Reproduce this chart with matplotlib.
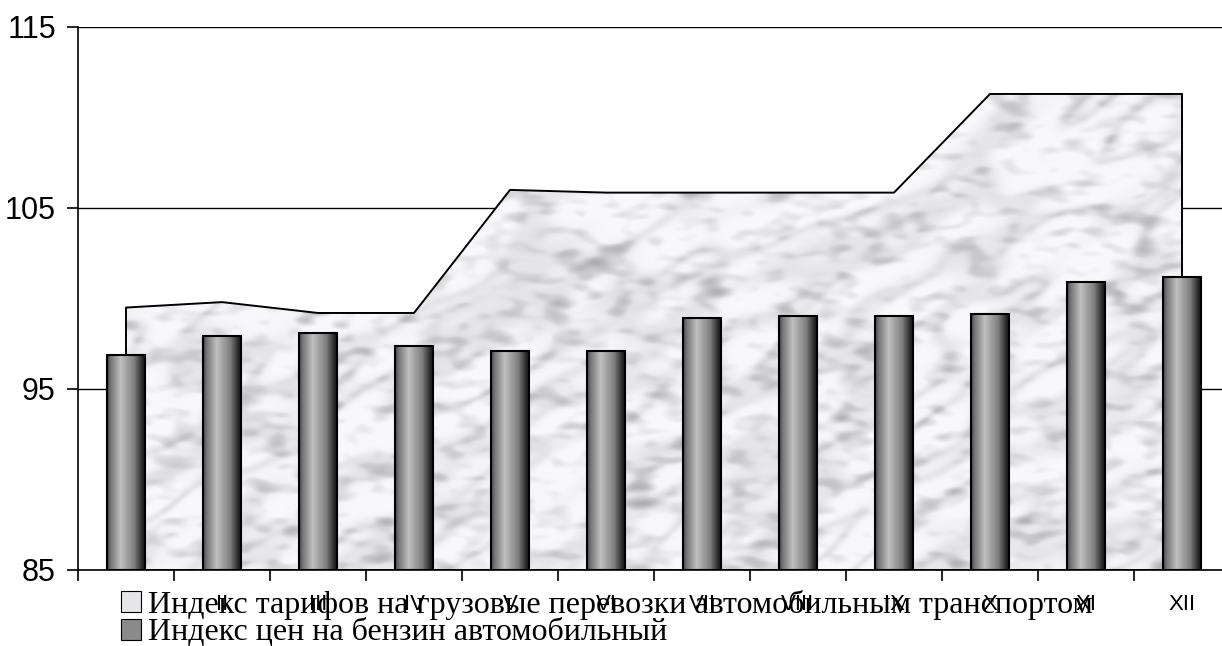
import numpy as np
import matplotlib
matplotlib.use("Agg")
import matplotlib.pyplot as plt
from matplotlib.patches import Patch

months = ["I", "II", "III", "IV", "V", "VI", "VII", "VIII", "IX", "X", "XI", "XII"]
tariff_index = [99.5, 99.8, 99.2, 99.2, 106.0, 105.85, 105.85, 105.85, 105.85, 111.3, 111.3, 111.3]
petrol_index = [96.9, 97.95, 98.1, 97.4, 97.1, 97.1, 98.95, 99.05, 99.05, 99.15, 100.9, 101.2]
y_ticks = [85, 95, 105, 115]
legend_labels = ["Индекс тарифов на грузовые перевозки автомобильным транспортом",
                 "Индекс цен на бензин автомобильный"]

W, H = 1222, 646
fig = plt.figure(figsize=(W / 100, H / 100), dpi=100)
ax = fig.add_axes([78 / W, 1 - 570 / H, (1230 - 78) / W, (570 - 27) / H])
ax.set_xlim(-0.5, 11.5)
ax.set_ylim(85, 115)

x = np.arange(len(months))

# marble-like texture (styling only)
rng = np.random.default_rng(7)
n = 420
fy = np.fft.fftfreq(n)[:, None]
fx = np.fft.fftfreq(n)[None, :]
u = (fx + 0.6 * fy)
v = (0.6 * fx - fy)
filt = np.exp(-(u ** 2) / (2 * 0.035 ** 2) - (v ** 2) / (2 * 0.012 ** 2))
t1 = np.real(np.fft.ifft2(np.fft.fft2(rng.standard_normal((n, n))) * filt))
t2 = np.real(np.fft.ifft2(np.fft.fft2(rng.standard_normal((n, n))) *
                          np.exp(-(fx ** 2 + fy ** 2) / (2 * 0.06 ** 2))))
t1 /= t1.std()
t2 /= t2.std()
veins = np.exp(-(t1 ** 2) / 0.5)
tex = 0.5 * veins * (0.6 + 0.4 * np.clip(t2 + 1, 0, 2) / 2) + 0.2 * np.clip(t2, 0, None)
grey = np.clip(0.975 - 0.25 * tex, 0.55, 1)
rgb = np.dstack([grey, grey, np.clip(grey * 1.01, 0, 1)])

area = ax.fill_between(x, 85, tariff_index, facecolor="none", edgecolor="black",
                       linewidth=1.4, zorder=2)
im = ax.imshow(rgb, extent=(x[0], x[-1], 85, max(tariff_index)), aspect="auto",
               zorder=1.5, interpolation="bilinear")
im.set_clip_path(area.get_paths()[0], transform=ax.transData)

# bars with cylinder-like gradient
bars = ax.bar(x, [p - 85 for p in petrol_index], bottom=85, width=0.4,
              facecolor="none", edgecolor="black", linewidth=1.5, zorder=4)
g = np.linspace(0, 1, 64)
prof = np.interp(g, [0, 0.08, 0.35, 0.7, 0.9, 1.0], [0.25, 0.45, 0.75, 0.5, 0.18, 0.05])
grad = np.tile(prof, (2, 1))
for b in bars:
    gi = ax.imshow(grad, extent=(b.get_x(), b.get_x() + b.get_width(),
                                 b.get_y(), b.get_y() + b.get_height()),
                   cmap="gray", vmin=0, vmax=1, aspect="auto", zorder=3,
                   interpolation="bilinear")
    gi.set_clip_path(b)
ax.set_xlim(-0.5, 11.5)
ax.set_ylim(85, 115)

# axes styling
for s in ["top", "right"]:
    ax.spines[s].set_visible(False)
ax.spines["left"].set_linewidth(1.2)
ax.spines["bottom"].set_linewidth(1.2)
ax.set_yticks(y_ticks)
ax.yaxis.grid(True, color="black", linewidth=1.0)
ax.set_axisbelow(True)
ax.tick_params(axis="y", direction="out", length=8, width=1.2, labelsize=22, pad=8)
for lab in ax.get_yticklabels():
    lab.set_family("Liberation Sans")

ax.set_xticks(x)
ax.set_xticklabels(months, family="Liberation Sans", fontsize=16)
ax.set_xticks(np.arange(-0.5, 12.0, 1.0), minor=True)
ax.tick_params(axis="x", which="major", length=0, pad=17)
ax.tick_params(axis="x", which="minor", direction="out", length=8, width=1.2)

handles = [Patch(facecolor="#e6e6e8", edgecolor="black", linewidth=0.8),
           Patch(facecolor="#8a8a8a", edgecolor="black", linewidth=0.8)]
fig.legend(handles, legend_labels, loc="upper left",
           bbox_to_anchor=(121 / W, 1 - 590 / H), frameon=False,
           prop={"family": "Liberation Serif", "size": 23},
           handlelength=0.63, handleheight=0.63, handletextpad=0.2,
           labelspacing=-0.05, borderpad=0, borderaxespad=0)

fig.savefig("out.png", dpi=100)
